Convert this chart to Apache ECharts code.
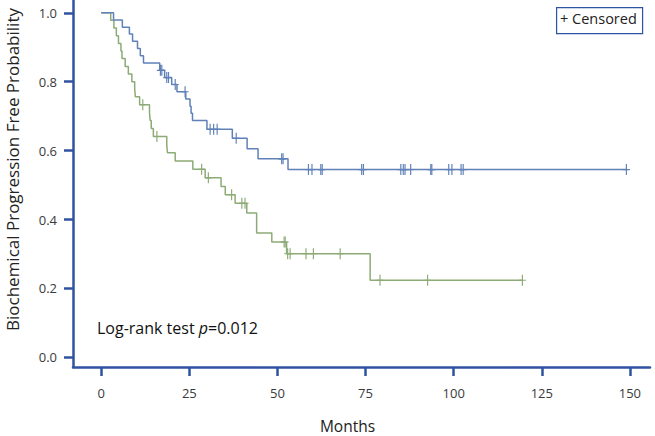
<!DOCTYPE html>
<html>
<head>
<meta charset="utf-8">
<script src="https://cdn.jsdelivr.net/npm/echarts@6/dist/echarts.min.js"></script>
<style>
html,body{margin:0;padding:0;background:#fff;}
#chart{width:655px;height:436px;}
</style>
</head>
<body>
<div id="chart"></div>
<script>
// ---- data ----
const xTicks = [0, 25, 50, 75, 100, 125, 150];
const yTicks = [0, 0.2, 0.4, 0.6, 0.8, 1.0];

// Group 1 (blue): event times and survival after each step
const blueTimes = [0, 3.5, 6.0, 8.0, 8.9, 10.3, 11.1, 12.0, 16.6, 18.0, 20.0, 21.5, 24.0, 25.2, 25.5, 25.9, 30.0, 37.2, 41.4, 44.5, 53.0];
const blueSurv  = [1.0, 0.979, 0.958, 0.938, 0.917, 0.896, 0.875, 0.854, 0.833, 0.812, 0.792, 0.771, 0.750, 0.729, 0.708, 0.687, 0.662, 0.636, 0.605, 0.576, 0.545];
const blueEnd = 149;
const blueCensored = [16.8, 17.2, 18.6, 19.1, 21.0, 23.8, 30.9, 31.9, 32.9, 38.3, 51.2, 51.6, 58.8, 59.8, 62.3, 62.7, 73.9, 74.4, 85.0, 85.7, 86.2, 87.8, 93.5, 93.8, 98.6, 99.5, 102.1, 102.7, 149];

// Group 2 (green)
const greenTimes = [0, 2.7, 3.6, 4.3, 4.9, 5.6, 5.9, 6.8, 7.7, 8.7, 9.5, 9.7, 10.9, 13.7, 13.9, 14.2, 14.8, 18.6, 18.8, 21.0, 26.0, 29.5, 34.0, 35.2, 38.0, 41.3, 44.1, 48.4, 52.6, 76.3];
const greenSurv  = [1.0, 0.978, 0.956, 0.933, 0.911, 0.889, 0.867, 0.844, 0.822, 0.800, 0.778, 0.756, 0.733, 0.710, 0.687, 0.664, 0.641, 0.617, 0.594, 0.570, 0.546, 0.521, 0.496, 0.472, 0.447, 0.419, 0.361, 0.335, 0.301, 0.224];
const greenEnd = 119.5;
const greenCensored = [11.8, 15.8, 28.5, 30.4, 37.0, 39.9, 40.8, 51.9, 52.2, 52.9, 53.6, 58.1, 60.2, 67.8, 79.1, 92.6, 119.5];

const legendText = '+ Censored';
const xName = 'Months';
const yName = 'Biochemical Progression Free Probability';

// ---- build series data ----
function stepData(times, surv, end) {
  const d = times.map((t, i) => [t, surv[i]]);
  d.push([end, surv[surv.length - 1]]);
  return d;
}
function survAt(times, surv, t) {
  let s = surv[0];
  for (let i = 0; i < times.length; i++) { if (times[i] <= t) s = surv[i]; }
  return s;
}
function censorData(times, surv, cens) {
  return cens.map(t => [t, survAt(times, surv, t)]);
}

const BLUE = '#5f81b8';
const GREEN = '#8dab76';
const AXIS = '#2f53a2';
const FONT = 'Open Sans';
const plusPath = 'path://M3,0H4.2V11H3Z M0,5H7.2V6.1H0Z';

const chart = echarts.init(document.getElementById('chart'), null, {renderer: 'svg'});
chart.setOption({
  animation: false,
  backgroundColor: '#fff',
  grid: {left: 73, right: 5, top: 0, bottom: 69, containLabel: false, outerBoundsMode: 'none'},
  xAxis: {
    type: 'value', min: -8, max: 155.7,
    name: xName, nameLocation: 'middle', nameGap: 51,
    nameTextStyle: {fontFamily: FONT, fontSize: 15.5, color: '#222', padding: [0, 28, 0, 0]},
    axisLine: {show: true, onZero: false, lineStyle: {color: AXIS, width: 2.5}},
    axisTick: {show: true, customValues: xTicks, length: 9, lineStyle: {color: AXIS, width: 2.5}},
    axisLabel: {customValues: xTicks, margin: 19, fontFamily: FONT, fontSize: 13, color: '#3a3a3a'},
    splitLine: {show: false}
  },
  yAxis: {
    type: 'value', min: -0.028, max: 1.037,
    name: yName, nameLocation: 'middle', nameGap: 52,
    nameTextStyle: {fontFamily: FONT, fontSize: 17, color: '#222', padding: [0, 0, 0, 28]},
    axisLine: {show: true, onZero: false, lineStyle: {color: AXIS, width: 2.5}},
    axisTick: {show: true, customValues: yTicks, length: 9, lineStyle: {color: AXIS, width: 2.5}},
    axisLabel: {customValues: yTicks, margin: 16, fontFamily: FONT, fontSize: 13, color: '#3a3a3a',
      formatter: v => v.toFixed(1)},
    splitLine: {show: false}
  },
  series: [
    {type: 'line', step: 'end', data: stepData(greenTimes, greenSurv, greenEnd), showSymbol: false,
     lineStyle: {color: GREEN, width: 1.5}, itemStyle: {color: GREEN}, z: 2},
    {type: 'line', step: 'end', data: stepData(blueTimes, blueSurv, blueEnd), showSymbol: false,
     lineStyle: {color: BLUE, width: 1.5}, itemStyle: {color: BLUE}, z: 3},
    {type: 'scatter', data: censorData(greenTimes, greenSurv, greenCensored), symbol: plusPath,
     symbolSize: [7, 11], itemStyle: {color: GREEN, opacity: 1}, z: 4},
    {type: 'scatter', data: censorData(blueTimes, blueSurv, blueCensored), symbol: plusPath,
     symbolSize: [7, 11], itemStyle: {color: BLUE, opacity: 1}, z: 5}
  ],
  graphic: [
    {type: 'rect', left: 556, top: 7, shape: {width: 86, height: 26},
     style: {fill: '#fff', stroke: AXIS, lineWidth: 1.2}},
    {type: 'text', left: 560, top: 11,
     style: {text: legendText, fontFamily: FONT, fontSize: 14.5, fill: '#222'}},
    {type: 'text', left: 97, top: 320,
     style: {text: '{a|Log-rank test }{b|p}{a|=0.012}',
       rich: {a: {fontFamily: FONT, fontSize: 16, fill: '#111'}, b: {fontFamily: FONT, fontSize: 16, fontStyle: 'italic', fill: '#111'}}}}
  ]
});
</script>
</body>
</html>
